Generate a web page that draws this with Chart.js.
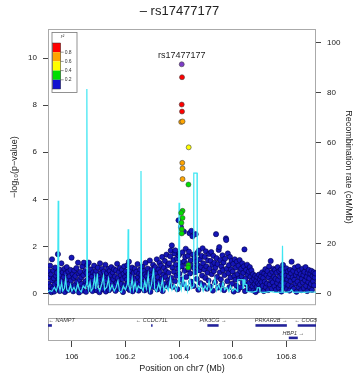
<!DOCTYPE html>
<html>
<head>
<meta charset="utf-8">
<script src="https://cdn.jsdelivr.net/npm/chart.js@4.4.0/dist/chart.umd.min.js"></script>
<style>
  body { margin: 0; background: #fff; }
  #wrap { position: relative; width: 359px; height: 382px; }
  canvas { position: absolute; left: 0; }
  #main { top: 0; }
  #genes { top: 316px; }
</style>
</head>
<body>
<div id="wrap">
  <canvas id="main" width="359" height="316"></canvas>
  <canvas id="genes" width="359" height="66"></canvas>
</div>
<script>
// ---- data ----
const leadSnp = 'rs17477177';
const posRange = [105.911, 106.911];
const logpTicks = [0, 2, 4, 6, 8, 10];
const recombTicks = [0, 20, 40, 60, 80, 100];
const posTicks = [106, 106.2, 106.4, 106.6, 106.8];

const r2Breaks = [0.2, 0.4, 0.6, 0.8];
const r2Colors = ['#1010d0', '#00dd00', '#ffff00', '#ffa500', '#ff0000'];
const leadColor = '#7d3cc8';

// snps in LD with the lead snp (first one is the lead)
const hitPos  = [106.410, 106.411, 106.410, 106.411, 106.408, 106.413, 106.412, 106.413, 106.413, 106.436, 106.435, 106.413, 106.408, 106.413, 106.409, 106.410, 106.410, 106.435, 106.434];
const hitLogP = [9.74, 9.19, 8.03, 7.73, 7.29, 7.31, 5.55, 5.32, 4.86, 6.21, 4.63, 3.51, 3.42, 3.21, 3.00, 2.73, 2.55, 1.21, 1.10];
const hitR2   = [1.00, 0.92, 0.88, 0.85, 0.72, 0.70, 0.68, 0.66, 0.64, 0.50, 0.32, 0.30, 0.28, 0.27, 0.26, 0.24, 0.23, 0.22, 0.21];

// snps with r2 < 0.2  [Mb, -log10 p]
const bgSnps = [
 [105.912,0.42],[105.914,0.95],[105.915,0.12],[105.917,0.68],[105.919,1.18],[105.920,0.30],[105.922,0.81],[105.924,0.05],[105.926,1.45],[105.927,0.55],[105.929,0.22],[105.931,0.97],[105.933,0.64],[105.934,0.08],[105.936,0.38],[105.938,1.10],[105.940,0.75],[105.942,0.18],[105.944,0.88],[105.946,0.47],[105.948,1.67],[105.949,0.28],[105.951,0.62],[105.953,1.02],[105.955,0.10],[105.957,0.80],[105.958,0.35],
 [105.961,1.28],[105.962,0.52],[105.964,0.15],[105.966,0.90],[105.968,0.33],[105.970,0.70],[105.972,1.05],[105.974,0.06],[105.975,0.45],[105.977,0.85],[105.979,0.25],[105.981,1.12],[105.983,0.60],[105.985,0.14],[105.987,0.93],[105.989,0.40],[105.991,0.72],[105.993,0.20],[105.995,1.00],[105.997,0.55],[105.999,1.52],[106.001,0.30],[106.003,0.82],[106.005,0.09],[106.007,0.66],[106.009,0.98],
 [106.011,0.36],[106.013,0.74],[106.015,0.16],[106.017,1.08],[106.019,0.50],[106.021,0.27],[106.023,1.31],[106.025,0.85],[106.027,0.04],[106.029,0.58],[106.031,0.92],[106.033,0.21],[106.035,0.69],[106.037,0.41],[106.039,1.15],[106.041,0.12],[106.043,0.78],[106.045,1.31],[106.047,0.33],[106.049,0.95],[106.051,0.52],[106.053,0.07],[106.055,0.87],[106.057,1.20],[106.059,0.44],
 [106.061,0.63],[106.063,1.31],[106.065,0.19],[106.067,0.80],[106.069,0.47],[106.071,1.02],[106.073,0.29],[106.075,0.71],[106.077,0.10],[106.079,0.90],[106.081,0.55],[106.083,1.18],[106.085,0.24],[106.087,0.83],[106.089,0.39],[106.091,0.97],[106.093,0.13],[106.095,0.66],[106.097,1.10],[106.099,0.48],[106.101,0.76],[106.103,0.05],[106.105,1.28],[106.107,0.58],[106.109,0.88],
 [106.111,0.31],[106.113,1.05],[106.115,0.62],[106.117,0.17],[106.119,0.93],[106.121,0.42],[106.123,0.74],[106.125,1.22],[106.127,0.08],[106.129,0.56],[106.131,0.86],[106.133,0.27],[106.135,1.04],[106.137,0.67],[106.139,0.14],[106.141,0.95],[106.143,0.37],[106.145,0.79],[106.147,1.12],[106.149,0.50],[106.151,0.22],[106.153,0.89],[106.155,0.60],[106.157,1.03],[106.159,0.34],
 [106.161,0.72],[106.163,0.11],[106.165,0.98],[106.167,0.46],[106.169,1.26],[106.171,0.65],[106.173,0.26],[106.175,0.90],[106.177,0.53],[106.179,1.08],[106.181,0.18],[106.183,0.77],[106.185,0.40],[106.187,1.00],[106.189,0.61],[106.191,0.06],[106.193,0.84],[106.195,1.15],[106.197,0.35],[106.199,0.70],[106.201,0.94],[106.203,0.23],[106.205,0.58],[106.207,1.20],[106.209,0.43],
 [106.211,0.82],[106.213,1.35],[106.215,0.15],[106.217,0.66],[106.219,0.99],[106.221,0.38],[106.223,0.75],[106.225,1.10],[106.227,0.09],[106.229,0.52],[106.231,0.88],[106.233,0.28],[106.235,1.05],[106.237,0.63],[106.239,0.19],[106.241,0.92],[106.243,0.45],[106.245,1.25],[106.247,0.70],[106.249,0.12],[106.251,0.85],[106.253,0.36],[106.255,1.02],[106.257,0.57],[106.259,0.79],
 [106.261,0.24],[106.263,1.14],[106.265,0.68],[106.267,0.41],[106.269,0.96],[106.271,0.13],[106.273,0.81],[106.275,1.30],[106.277,0.50],[106.279,0.73],[106.281,0.20],[106.283,1.06],[106.285,0.60],[106.287,0.87],[106.289,0.32],[106.291,1.40],[106.293,0.07],[106.295,0.77],[106.297,1.00],[106.299,0.44],[106.301,0.66],[106.303,1.22],[106.305,0.27],[106.307,0.91],[106.309,0.54],
 [106.311,1.12],[106.313,0.38],[106.315,0.84],[106.317,1.45],[106.319,0.17],[106.321,0.69],[106.323,1.02],[106.325,0.48],[106.327,1.30],[106.329,0.90],[106.331,0.25],[106.333,1.18],[106.335,0.62],[106.337,1.55],[106.339,0.10],[106.341,0.79],[106.343,1.08],[106.345,0.41],[106.347,1.38],[106.349,0.70],[106.351,0.95],[106.353,1.65],[106.355,0.30],[106.357,1.20],[106.359,0.56],
 [106.361,0.88],[106.363,1.28],[106.365,0.45],[106.367,1.58],[106.369,1.82],[106.371,0.66],[106.373,2.04],[106.375,1.10],[106.377,0.28],[106.379,1.42],[106.381,0.92],[106.383,1.70],[106.385,0.52],[106.386,1.83],[106.388,1.22],[106.390,0.75],[106.392,1.48],[106.394,0.18],[106.396,1.05],[106.398,3.11],[106.399,1.62],[106.401,0.84],[106.403,1.69],[106.405,1.30],[106.407,2.82],[106.409,0.60],
 [106.411,1.15],[106.413,1.75],[106.415,0.40],[106.418,2.63],[106.419,1.36],[106.421,0.96],[106.423,1.55],[106.425,1.90],[106.427,0.70],[106.429,1.25],[106.431,0.22],[106.433,1.60],[106.435,1.02],[106.437,1.78],[106.439,2.56],[106.441,0.85],[106.443,1.40],[106.445,0.50],[106.446,2.66],[106.448,1.18],[106.450,2.43],[106.452,1.65],[106.454,0.32],[106.456,1.08],[106.458,1.50],
 [106.460,0.90],[106.462,2.52],[106.464,1.35],[106.466,0.62],[106.468,1.72],[106.470,1.20],[106.472,0.16],[106.474,1.82],[106.476,0.98],[106.478,1.45],[106.480,0.44],[106.482,1.12],[106.484,1.60],[106.486,0.76],[106.488,1.92],[106.490,1.28],[106.492,0.35],[106.494,1.02],[106.496,1.55],[106.498,0.66],[106.500,1.79],[106.502,1.15],[106.504,0.20],[106.506,0.88],[106.508,1.40],
 [106.510,0.55],[106.512,1.68],[106.514,1.05],[106.516,0.30],[106.518,1.38],[106.520,1.76],[106.522,0.82],[106.524,1.22],[106.526,0.12],[106.528,1.60],[106.530,0.95],[106.532,1.30],[106.534,0.48],[106.536,1.10],[106.538,2.52],[106.540,1.50],[106.542,0.70],[106.544,1.25],[106.546,0.25],[106.548,1.85],[106.550,1.97],[106.552,0.90],[106.554,1.42],[106.556,0.60],[106.558,1.15],
 [106.560,0.38],[106.562,1.62],[106.564,0.99],[106.566,1.32],[106.568,0.14],[106.570,0.78],[106.572,1.48],[106.575,2.34],[106.576,2.27],[106.578,1.05],[106.580,0.52],[106.582,1.70],[106.584,0.86],[106.586,1.20],[106.588,0.27],[106.590,1.55],[106.592,0.68],[106.594,1.02],[106.596,1.38],[106.598,0.42],[106.600,0.93],[106.602,1.25],[106.604,0.08],[106.606,0.74],[106.608,1.45],
 [106.610,0.58],[106.612,1.10],[106.614,0.33],[106.616,1.35],[106.618,0.82],[106.620,0.15],[106.622,1.18],[106.624,0.64],[106.626,1.42],[106.628,0.95],[106.630,0.26],[106.632,1.05],[106.634,0.72],[106.636,1.28],[106.638,0.46],[106.640,0.88],[106.642,1.15],[106.644,1.87],[106.646,0.10],[106.648,0.62],[106.650,1.00],[106.652,0.38],[106.654,1.22],[106.656,0.80],[106.658,0.21],
 [106.660,0.93],[106.662,0.45],[106.664,1.12],[106.666,0.70],[106.668,0.17],[106.670,0.98],[106.672,0.55],[106.674,0.30],[106.676,0.82],[106.678,0.12],[106.680,0.62],[106.682,0.40],[106.684,0.75],[106.686,0.06],[106.688,0.52],[106.690,0.28],[106.692,0.70],[106.694,0.44],[106.696,0.15],[106.698,0.80],[106.700,0.36],[106.702,0.60],[106.704,0.22],[106.706,0.72],[106.708,0.48],
 [106.710,0.90],[106.712,0.32],[106.714,0.66],[106.716,0.10],[106.718,0.85],[106.720,0.50],[106.722,1.03],[106.724,0.26],[106.726,0.78],[106.728,0.42],[106.730,0.95],[106.732,0.14],[106.734,0.68],[106.736,1.15],[106.738,0.38],[106.740,0.82],[106.742,1.38],[106.744,0.55],[106.746,0.20],[106.748,0.92],[106.750,0.47],[106.752,1.05],[106.754,0.70],[106.756,0.30],[106.758,1.00],
 [106.760,0.62],[106.762,0.16],[106.764,0.88],[106.766,0.44],[106.768,1.12],[106.770,0.58],[106.772,0.24],[106.774,0.95],[106.776,0.72],[106.778,0.35],[106.780,1.02],[106.782,0.08],[106.784,0.80],[106.786,0.50],[106.788,1.21],[106.790,0.66],[106.792,0.28],[106.794,0.90],[106.796,0.42],[106.798,0.75],[106.800,1.07],[106.802,0.18],[106.804,0.60],[106.806,0.94],[106.808,0.36],
 [106.810,0.73],[106.812,0.12],[106.814,1.00],[106.816,0.52],[106.818,0.85],[106.820,1.35],[106.822,0.30],[106.824,0.68],[106.826,0.96],[106.828,0.20],[106.830,0.58],[106.832,1.10],[106.834,0.42],[106.836,0.78],[106.838,0.07],[106.840,0.90],[106.842,0.50],[106.844,1.15],[106.846,0.26],[106.848,0.70],[106.850,0.98],[106.852,0.38],[106.854,0.82],[106.856,0.14],[106.858,0.62],
 [106.860,1.05],[106.862,0.46],[106.864,0.78],[106.866,0.22],[106.868,0.92],[106.870,0.56],[106.872,1.12],[106.874,0.32],[106.876,0.70],[106.878,0.10],[106.880,0.88],[106.882,0.48],[106.884,1.00],[106.886,0.64],[106.888,0.27],[106.890,0.84],[106.892,0.40],[106.894,0.96],[106.896,0.15],[106.898,0.74],[106.900,0.52],[106.902,0.90],[106.904,0.34],[106.906,0.68],[106.908,0.85]
];

// recombination rate [Mb, cM/Mb]
const recomb = [
 [105.911,0.6],[105.918,1.2],[105.925,0.8],[105.935,2.5],[105.942,1.0],[105.947,3.0],[105.949,37],[105.951,3.5],[105.956,1.2],[105.962,4.5],[105.966,1.0],[105.972,2.0],[105.977,6.0],[105.981,1.5],[105.988,0.8],[105.995,3.5],[106.000,1.0],[106.008,2.5],[106.015,0.8],[106.022,4.0],[106.028,1.5],[106.035,0.6],[106.042,3.0],[106.050,2.0],[106.055,4.0],[106.056,81.5],[106.058,5.0],[106.062,1.5],[106.068,4.5],[106.072,1.0],[106.078,2.0],[106.085,6.5],[106.089,1.8],[106.095,8.0],[106.098,2.5],[106.104,1.0],[106.112,4.0],[106.118,7.0],[106.122,1.5],[106.130,2.5],[106.137,6.0],[106.142,1.2],[106.150,3.5],[106.158,1.0],[106.165,2.5],[106.172,5.0],[106.178,1.0],[106.185,0.5],[106.192,3.0],[106.200,1.5],[106.208,4.0],[106.210,25.6],[106.212,3.5],[106.218,1.0],[106.225,6.0],[106.230,1.5],[106.236,4.5],[106.242,1.0],[106.248,3.0],[106.256,2.0],[106.258,48.8],[106.260,2.5],[106.266,1.0],[106.272,5.0],[106.278,2.0],[106.285,7.5],[106.290,1.0],[106.297,3.5],[106.305,10.0],[106.309,2.0],[106.316,0.8],[106.324,4.0],[106.330,1.5],[106.338,5.5],[106.343,1.0],[106.352,3.0],[106.360,1.2],[106.368,6.0],[106.374,1.5],[106.382,3.5],[106.390,1.0],[106.398,5.0],[106.400,36.2],[106.402,4.0],[106.408,1.5],[106.415,7.0],[106.420,2.0],[106.426,4.5],[106.432,1.0],[106.440,6.0],[106.446,2.0],[106.454,3.0],[106.455,48],[106.467,48],[106.468,3.0],[106.475,1.5],[106.482,4.0],[106.490,1.0],[106.497,3.0],[106.505,1.5],[106.512,5.0],[106.518,1.0],[106.526,2.5],[106.534,6.0],[106.540,1.2],[106.548,3.5],[106.556,1.0],[106.564,4.5],[106.570,1.5],[106.578,2.5],[106.586,0.8],[106.592,3.0],[106.600,1.0],[106.608,2.0],[106.618,0.8],[106.619,5.5],[106.638,5.5],[106.639,2.0],[106.641,5.5],[106.645,5.5],[106.646,3.6],[106.652,3.6],[106.653,0.8],[106.675,0.6],[106.690,1.0],[106.692,2.3],[106.700,2.3],[106.702,0.6],[106.720,0.5],[106.740,0.8],[106.760,0.5],[106.784,0.6],[106.786,19],[106.788,0.6],[106.800,0.5],[106.815,0.8],[106.820,1.5],[106.826,0.5],[106.845,0.6],[106.870,0.5],[106.890,0.7],[106.911,0.5]
];

// genes
const geneNames  = ['NAMPT', 'CCDC71L', 'PIK3CG', 'PRKAR2B', 'HBP1', 'COG5'];
const geneStart  = [105.8887, 106.2957, 106.5057, 106.6851, 106.8094, 106.8428];
const geneEnd    = [105.9255, 106.3012, 106.5476, 106.8023, 106.8430, 107.2010];
const geneStrand = ['-', '-', '+', '+', '+', '-'];
const geneRow    = [1, 1, 1, 1, 2, 1];

Chart.defaults.font.family = '"Liberation Sans", Arial, sans-serif';
Chart.defaults.color = '#222';

function r2Color(r2) {
  let i = 0;
  while (i < r2Breaks.length && r2 >= r2Breaks[i]) i++;
  return r2Colors[i];
}

const boxPlugin = {
  id: 'box',
  beforeDatasetsDraw(chart) {
    const { ctx, chartArea: a } = chart;
    ctx.save();
    ctx.strokeStyle = '#aaaaaa';
    ctx.lineWidth = 1;
    ctx.strokeRect(a.left + 0.5, a.top + 0.5, a.right - a.left - 1, a.bottom - a.top - 1);
    ctx.restore();
  }
};

const r2Legend = {
  id: 'r2legend',
  afterDatasetsDraw(chart) {
    const { ctx, chartArea: a } = chart;
    const x0 = a.left + 3.5, y0 = a.top + 3, w = 25, h = 60;
    ctx.save();
    ctx.fillStyle = '#fff';
    ctx.fillRect(x0, y0, w, h);
    ctx.strokeStyle = '#777';
    ctx.lineWidth = 0.8;
    ctx.strokeRect(x0 + 0.5, y0 + 0.5, w, h);
    ctx.fillStyle = '#333';
    ctx.textAlign = 'center';
    ctx.textBaseline = 'middle';
    ctx.font = 'italic 5px "Liberation Sans"';
    ctx.fillText('r²', x0 + 11, y0 + 5);
    const bx = x0 + 1.2, by = y0 + 11, bw = 8, bh = 9.2;
    const cols = r2Colors.slice().reverse();
    cols.forEach((c, i) => {
      ctx.fillStyle = c;
      ctx.fillRect(bx, by + i * bh, bw, bh);
    });
    ctx.strokeStyle = '#333';
    ctx.lineWidth = 0.5;
    ctx.strokeRect(bx, by, bw, bh * cols.length);
    ctx.font = '5px "Liberation Sans"';
    ctx.textAlign = 'left';
    ctx.fillStyle = '#333';
    r2Breaks.slice().reverse().forEach((b, i) => {
      const yy = by + (i + 1) * bh;
      ctx.beginPath();
      ctx.moveTo(bx + bw, yy);
      ctx.lineTo(bx + bw + 3, yy);
      ctx.stroke();
      ctx.fillText(b.toFixed(1), bx + bw + 4, yy);
    });
    ctx.restore();
  }
};

const leadLabel = {
  id: 'leadLabel',
  afterDatasetsDraw(chart) {
    const { ctx, scales } = chart;
    const x = scales.x.getPixelForValue(hitPos[0]);
    const y = scales.y.getPixelForValue(hitLogP[0]);
    ctx.save();
    ctx.fillStyle = '#222';
    ctx.font = '9px "Liberation Sans"';
    ctx.textAlign = 'center';
    ctx.textBaseline = 'middle';
    ctx.fillText(leadSnp, x, y - 9);
    ctx.restore();
  }
};

new Chart(document.getElementById('main'), {
  type: 'scatter',
  data: {
    datasets: [
      {
        label: 'hits',
        data: hitPos.map((p, i) => ({ x: p, y: hitLogP[i] })),
        backgroundColor: hitR2.map((r, i) => i === 0 ? leadColor : r2Color(r)),
        borderColor: '#444',
        borderWidth: 0.6,
        pointRadius: 2.5,
        yAxisID: 'y',
        order: 1
      },
      {
        type: 'line',
        label: 'recomb',
        data: recomb.map(d => ({ x: d[0], y: d[1] })),
        borderColor: '#3fe6f2',
        borderWidth: 1.2,
        pointRadius: 0,
        tension: 0,
        fill: false,
        yAxisID: 'yr',
        order: 2
      },
      {
        label: 'low LD',
        data: bgSnps.map(d => ({ x: d[0], y: d[1] })),
        backgroundColor: '#1616b8',
        borderColor: '#00004a',
        borderWidth: 0.6,
        pointRadius: 2.6,
        yAxisID: 'y',
        order: 3
      }
    ]
  },
  options: {
    responsive: false,
    animation: false,
    events: [],
    layout: { padding: { left: 0, right: 0, top: 0, bottom: 3 } },
    plugins: {
      legend: { display: false },
      tooltip: { enabled: false },
      title: {
        display: true,
        text: '– ' + leadSnp,
        font: { size: 13, weight: 'normal' },
        color: '#222',
        padding: { top: 4, bottom: 9.4 }
      }
    },
    scales: {
      x: { type: 'linear', min: posRange[0], max: posRange[1], display: false },
      y: {
        position: 'left',
        min: -0.5, max: 11.24,
        afterBuildTicks: s => { s.ticks = logpTicks.map(v => ({ value: v })); },
        afterFit: s => { s.width = 48; },
        ticks: { font: { size: 8 }, color: '#222', padding: 6 },
        grid: { drawOnChartArea: false, tickLength: 5, color: '#444' },
        border: { display: false },
        title: { display: true, text: '−log₁₀(p−value)', font: { size: 9 }, color: '#222', padding: { top: 9, bottom: 0 } }
      },
      yr: {
        position: 'right',
        min: -4.65, max: 105.4,
        afterBuildTicks: s => { s.ticks = recombTicks.map(v => ({ value: v })); },
        afterFit: s => { s.width = 43; },
        ticks: { font: { size: 8 }, color: '#222', padding: 6 },
        grid: { drawOnChartArea: false, tickLength: 5, color: '#444' },
        border: { display: false },
        title: { display: true, text: 'Recombination rate (cM/Mb)', font: { size: 9 }, color: '#222', padding: { top: 5, bottom: 0 } }
      }
    }
  },
  plugins: [boxPlugin, r2Legend, leadLabel]
});

const geneLabels = {
  id: 'geneLabels',
  afterDatasetsDraw(chart) {
    const { ctx, scales, chartArea: a } = chart;
    ctx.save();
    ctx.font = 'italic 5.5px "Liberation Sans"';
    ctx.fillStyle = '#333';
    ctx.textAlign = 'center';
    ctx.textBaseline = 'middle';
    geneNames.forEach((g, i) => {
      const x1 = Math.max(a.left, scales.x.getPixelForValue(geneStart[i]));
      const x2 = Math.min(a.right, scales.x.getPixelForValue(geneEnd[i]));
      const txt = geneStrand[i] === '+' ? g + ' →' : '← ' + g;
      const w = ctx.measureText(txt).width;
      let cx = (x1 + x2) / 2;
      cx = Math.min(Math.max(cx, a.left + w / 2 + 0.5), a.right - w / 2 + 1);
      const y = scales.y.getPixelForValue(geneRow[i]) - 4.5;
      ctx.fillText(txt, cx, y);
    });
    ctx.restore();
  }
};

new Chart(document.getElementById('genes'), {
  type: 'line',
  data: {
    datasets: geneNames.map((g, i) => ({
      label: g,
      data: [{ x: geneStart[i], y: geneRow[i] }, { x: geneEnd[i], y: geneRow[i] }],
      borderColor: '#22229a',
      borderWidth: 2.6,
      borderCapStyle: 'butt',
      pointRadius: 0
    }))
  },
  options: {
    responsive: false,
    animation: false,
    events: [],
    layout: { padding: { left: 48, right: 43, top: 2, bottom: 0 } },
    plugins: { legend: { display: false }, tooltip: { enabled: false } },
    scales: {
      x: {
        type: 'linear',
        min: posRange[0], max: posRange[1],
        afterBuildTicks: s => { s.ticks = posTicks.map(v => ({ value: v })); },
        afterFit: s => { s.height = 41; },
        ticks: { font: { size: 8 }, color: '#222', padding: 5, maxRotation: 0, callback: v => String(+v.toFixed(1)) },
        grid: { drawOnChartArea: false, tickLength: 6, color: '#444' },
        border: { display: false },
        title: { display: true, text: 'Position on chr7 (Mb)', font: { size: 9 }, color: '#222', padding: { top: 0, bottom: 8 } }
      },
      y: { type: 'linear', min: 0.4, max: 2.25, reverse: true, display: false }
    }
  },
  plugins: [boxPlugin, geneLabels]
});
</script>
</body>
</html>
